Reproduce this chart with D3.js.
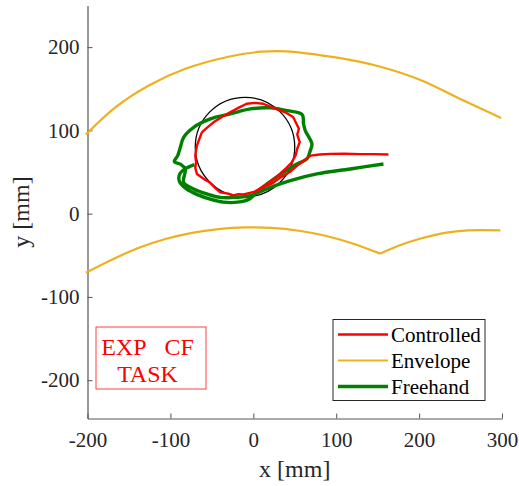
<!DOCTYPE html>
<html>
<head>
<meta charset="utf-8">
<script src="https://cdn.jsdelivr.net/npm/d3@7"></script>
<style>
  body { margin: 0; background: #fff; }
</style>
</head>
<body>
<svg id="chart" width="519" height="486"></svg>
<script>
// tick values
const xTicks = [-200, -100, 0, 100, 200, 300];
const yTicks = [-200, -100, 0, 100, 200];

// envelope, upper branch and the two parts of the lower branch [x, y] in mm
const envelopeUpper = [
  [-202, 95], [-166, 128], [-126, 154], [-82, 174], [-30, 188.5], [10, 194.5],
  [39, 195], [103, 187], [151, 177], [203, 160], [251, 137], [299, 115]
];
const envelopeLowerLeft = [
  [-202, -71], [-170, -55], [-138, -41], [-106, -30.5], [-74, -23], [-42, -18.5],
  [-10, -16.5], [22, -17], [55, -20.5], [87, -26.5], [119, -35.5], [153, -48]
];
const envelopeLowerRight = [
  [153, -48], [175, -38.5], [203, -29.5], [231, -23], [259, -20], [298, -20]
];

// target circle
const circleCenter = [-10, 80];
const circleRadius = 60;

// controlled trajectory
const controlled = [
  [163, 71], [145, 71.5], [129, 71.5], [110, 72], [93, 71.8], [80, 71], [69, 69.7],
  [60, 63], [53, 57.7], [44, 50], [33, 43.6], [24, 37], [12, 31.6], [4, 27],
  [-4, 25], [-12, 23], [-18, 23.4], [-24, 22], [-30, 24], [-40, 25.6], [-46, 31],
  [-52, 37], [-60, 42], [-68, 47.7], [-70, 55], [-69, 61.7], [-70, 70], [-68, 81.7],
  [-65, 90], [-62, 97.7], [-55, 104], [-48, 109.7], [-38, 116], [-28, 121.8],
  [-18, 127], [-8, 132], [2, 133], [12, 132], [22, 128], [32, 124], [40, 121],
  [48, 116], [51, 110], [55, 102], [53, 95], [56, 86], [53, 78], [51, 70],
  [46, 61], [40, 55], [32, 47.7], [24, 41], [14, 33.7], [6, 29], [-1, 25]
];

// freehand trajectory
const freehand = [
  [-71, 59], [-82, 54], [-89, 47], [-89, 38.5], [-81, 30], [-67.5, 22.8], [-52, 17.4],
  [-36, 13.8], [-19, 13.8], [-4, 18], [6, 27.6], [16.5, 35.7], [36.5, 49.6],
  [52.7, 59.7], [64.7, 65.7], [68.7, 75.7], [70.7, 83.8], [62.7, 99.8], [60.6, 107.8],
  [59, 119], [41, 123.8], [20.5, 127], [-3.6, 125.8], [-27.7, 119.8], [-51.8, 113.8],
  [-71.9, 103.7], [-84, 91.7], [-88, 79.7], [-91.2, 69.7], [-95.2, 62.5], [-88, 59.5],
  [-82, 53.5], [-84, 37.6], [-72, 29.7], [-56, 23.7], [-40, 19.6], [-20, 19.6],
  [-3.6, 21.6], [20.5, 31.6], [44.6, 39.7], [76.7, 47.7], [117, 53.7], [157, 59.7]
];

const legendNames = ["Controlled", "Envelope", "Freehand"];
const noteLines = ["EXP\u00a0\u00a0\u00a0CF", "TASK"];

const colors = { Controlled: "#ff0000", Envelope: "#edb120", Freehand: "#008000" };
const widths = { Controlled: 2.4, Envelope: 2.2, Freehand: 3.4 };

const serif = "'Times New Roman', serif";
const svg = d3.select("#chart");

const x = d3.scaleLinear().domain([-200, 300]).range([87.5, 502]);
const y = d3.scaleLinear().domain([-246, 250]).range([418.5, 5.5]);

const line = d3.line().x(d => x(d[0])).y(d => y(d[1]));
const smooth = d3.line().x(d => x(d[0])).y(d => y(d[1])).curve(d3.curveCatmullRom);

// helper so every text gets the same family set the same way
const label = (sel, size) => sel.style("font-family", serif).style("font-size", size + "px");

// axes, ticks point inward
const xAxis = svg.append("g")
  .attr("transform", `translate(0,${y(-246)})`)
  .call(d3.axisBottom(x).tickValues(xTicks).tickSize(-5).tickSizeOuter(0).tickPadding(14));
const yAxis = svg.append("g")
  .attr("transform", `translate(${x(-200)},0)`)
  .call(d3.axisLeft(y).tickValues(yTicks).tickSize(-5).tickSizeOuter(0).tickPadding(8));

[xAxis, yAxis].forEach(a => {
  a.attr("font-family", null).attr("font-size", null);
  a.select(".domain").attr("stroke", "#555").attr("stroke-width", 1.2);
  a.selectAll(".tick line").attr("stroke", "#555");
  label(a.selectAll("text"), 21)
    .attr("fill", "#262626")
    .text(d => d < 0 ? "-" + Math.abs(d) : d);
});
xAxis.selectAll("text").attr("dy", "0.71em");

label(svg.append("text"), 24)
  .attr("x", (x(-200) + x(300)) / 2)
  .attr("y", 477)
  .attr("text-anchor", "middle")
  .attr("fill", "#262626")
  .text("x [mm]");

label(svg.append("text"), 24)
  .attr("transform", `translate(29,${(y(-246) + y(250)) / 2}) rotate(-90)`)
  .attr("text-anchor", "middle")
  .attr("fill", "#262626")
  .text("y [mm]");

// envelope
[envelopeUpper, envelopeLowerLeft, envelopeLowerRight].forEach(seg => {
  svg.append("path")
    .attr("d", smooth(seg))
    .attr("fill", "none")
    .attr("stroke", colors.Envelope)
    .attr("stroke-width", widths.Envelope)
    .attr("stroke-linejoin", "round");
});

// circle
svg.append("circle")
  .attr("cx", x(circleCenter[0]))
  .attr("cy", y(circleCenter[1]))
  .attr("r", x(circleRadius) - x(0))
  .attr("fill", "none")
  .attr("stroke", "#000")
  .attr("stroke-width", 1.3);

svg.append("path")
  .attr("d", smooth(freehand))
  .attr("fill", "none")
  .attr("stroke", colors.Freehand)
  .attr("stroke-width", widths.Freehand)
  .attr("stroke-linejoin", "round");

svg.append("path")
  .attr("d", line(controlled))
  .attr("fill", "none")
  .attr("stroke", colors.Controlled)
  .attr("stroke-width", widths.Controlled)
  .attr("stroke-linejoin", "round");

// note box
const note = svg.append("g");
note.append("rect")
  .attr("x", 96).attr("y", 327)
  .attr("width", 110).attr("height", 62)
  .attr("fill", "#fff")
  .attr("stroke", "#ff4040")
  .attr("stroke-width", 1);
label(note.selectAll("text")
  .data(noteLines)
  .enter().append("text"), 24)
  .attr("x", 147.5)
  .attr("y", (d, i) => 355 + i * 27)
  .attr("text-anchor", "middle")
  .attr("fill", "#ff0000")
  .text(d => d);

// legend
const legend = svg.append("g").attr("transform", "translate(333,319.5)");
legend.append("rect")
  .attr("width", 152).attr("height", 81)
  .attr("fill", "#fff")
  .attr("stroke", "#262626")
  .attr("stroke-width", 1);
legendNames.forEach((name, i) => {
  const cy = 15 + i * 26;
  legend.append("line")
    .attr("x1", 5).attr("x2", 55)
    .attr("y1", cy).attr("y2", cy)
    .attr("stroke", colors[name])
    .attr("stroke-width", widths[name]);
  label(legend.append("text"), 21)
    .attr("x", 58)
    .attr("y", cy)
    .attr("dy", "0.35em")
    .attr("fill", "#000")
    .text(name);
});
</script>
</body>
</html>
